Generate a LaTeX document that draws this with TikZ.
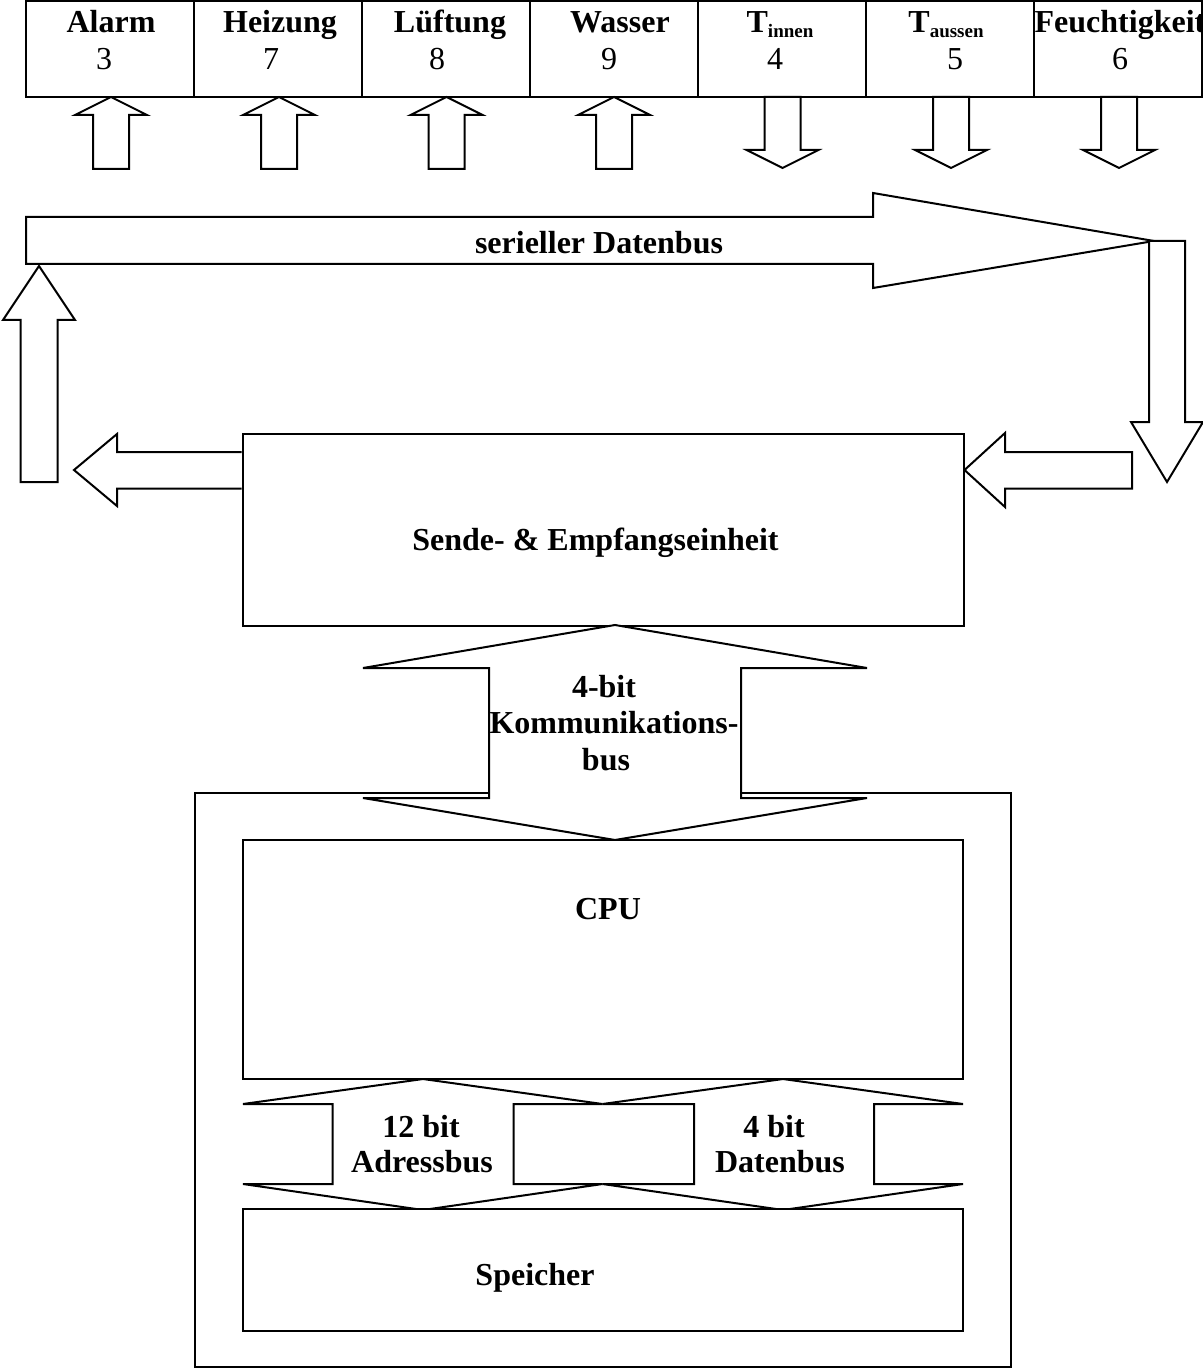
\documentclass[tikz,border=0pt]{standalone}
\usepackage{fontspec}
\setmainfont{Liberation Serif}
\newcommand\blockup[4]{% cx, tip, headbase, bottom
  \draw[blk] (#1,#2) -- ({#1+36},#3) -- ({#1+18},#3) -- ({#1+18},#4) -- ({#1-18},#4) -- ({#1-18},#3) -- ({#1-36},#3) -- cycle;}
\newcommand\blockdown[4]{% cx, top, headbase, tip
  \draw[blk] ({#1-18},#2) -- ({#1+18},#2) -- ({#1+18},#3) -- ({#1+36},#3) -- (#1,#4) -- ({#1-36},#3) -- ({#1-18},#3) -- cycle;}
\begin{document}
\begin{tikzpicture}[x=0.5pt,y=-0.5pt, line width=1pt, line join=miter,
  lbl/.style={font=\fontsize{16}{19}\selectfont\bfseries, inner sep=0pt, anchor=base},
  num/.style={font=\fontsize{16}{19}\selectfont, inner sep=0pt, anchor=base},
  blk/.style={draw=black, fill=white},
  box/.style={draw=black, fill=white, inner sep=0pt}]
\useasboundingbox (0,0) rectangle (1203,1369);
\fill[white] (0,0) rectangle (1203,1369);

% top row of boxes
\foreach \i/\nm in {0/alarm,1/heiz,2/lueft,3/wass,4/tin,5/taus,6/feucht}{
  \node[box, minimum width=84pt, minimum height=48pt] (\nm) at ({110+168*\i},49) {};
}
\node[lbl] (lalarm) at (111,33) {Alarm};
\node[lbl] (lheiz) at (280,33) {Heizung};
\node[lbl] (llueft) at (450,33) {Lüftung};
\node[lbl] (lwass) at (620,33) {Wasser};
\node[lbl] (ltin) at (780,33) {T\raisebox{-2.5pt}{\fontsize{9.5}{11}\selectfont innen}};
\node[lbl] (ltaus) at (946,33) {T\raisebox{-2.5pt}{\fontsize{9.5}{11}\selectfont aussen}};
\node[lbl] (lfeucht) at (1120,33) {Feuchtigkeit};
\node[num] (n3) at (104,70) {3};
\node[num] (n7) at (271,70) {7};
\node[num] (n8) at (437,70) {8};
\node[num] (n9) at (609,70) {9};
\node[num] (n4) at (775,70) {4};
\node[num] (n5) at (955,70) {5};
\node[num] (n6) at (1120,70) {6};

% small arrows below top boxes
\blockup{111}{97}{115}{169}
\blockup{279}{97}{115}{169}
\blockup{446.5}{97}{115}{169}
\blockup{614}{97}{115}{169}
\blockdown{782.5}{97}{150}{168}
\blockdown{951}{97}{150}{168}
\blockdown{1119}{97}{150}{168}

% serial data bus
\draw[blk] (26,217) -- (873,217) -- (873,193) -- (1154,241) -- (873,288) -- (873,264) -- (26,264) -- cycle;
\node[lbl] (lbus) at (599,254) {serieller Datenbus};

% right down arrow
\draw[blk] (1149,241) -- (1185,241) -- (1185,422) -- (1203,422) -- (1167,482) -- (1131,422) -- (1149,422) -- cycle;
% left up arrow
\draw[blk] (39,266) -- (75,320) -- (57.5,320) -- (57.5,482) -- (20.5,482) -- (20.5,320) -- (3,320) -- cycle;

% Sende- & Empfangseinheit
\node[box, minimum width=360.5pt, minimum height=96pt] (sende) at (603,530) {};
\node[lbl] (lsende) at (595.5,550.5) {Sende- \& Empfangseinheit};
% arrow out of sende (left)
\draw[blk] (sende.west |- 0,452) -- (117,452) -- (117,434) -- (74,470) -- (117,506) -- (117,488.5) -- (sende.west |- 0,488.5);
% arrow into sende (right)
\draw[blk] (sende.east |- 0,470) -- (1005,433) -- (1005,452) -- (1132,452) -- (1132,488.5) -- (1005,488.5) -- (1005,507) -- cycle;

% outer box
\node[box, minimum width=408pt, minimum height=287pt] (outer) at (603,1080) {};

% 4-bit communication bus
\draw[blk] (615,625) -- (867,668) -- (741,668) -- (741,798) -- (867,798) -- (615,840) -- (363,798) -- (489,798) -- (489,668) -- (363,668) -- cycle;
\node[lbl] (lk1) at (604,697) {4-bit};
\node[lbl] (lk2) at (614,733) {Kommunikations-};
\node[lbl] (lk3) at (606,770) {bus};

% CPU
\node[box, minimum width=360.25pt, minimum height=119.5pt] (cpu) at (602.75,959.5) {};
\node[lbl] (lcpu) at (608,919) {CPU};

% lower buses
\draw[blk] (423,1079) -- (602.5,1104) -- (513.5,1104) -- (513.5,1184) -- (602.5,1184) -- (423,1210) -- (243,1184) -- (332.5,1184) -- (332.5,1104) -- (243,1104) -- cycle;
\draw[blk] (783,1079) -- (963,1104) -- (874,1104) -- (874,1184) -- (963,1184) -- (783,1210) -- (602.5,1184) -- (694,1184) -- (694,1104) -- (602.5,1104) -- cycle;
\node[lbl] (la1) at (421,1137) {12 bit};
\node[lbl] (la2) at (422,1172) {Adressbus};
\node[lbl] (ld1) at (774,1137) {4 bit};
\node[lbl] (ld2) at (780,1172) {Datenbus};

% Speicher
\node[box, minimum width=360.25pt, minimum height=61pt] (speicher) at (602.75,1270) {};
\node[lbl] (lspeicher) at (535,1285) {Speicher};
\end{tikzpicture}
\end{document}
